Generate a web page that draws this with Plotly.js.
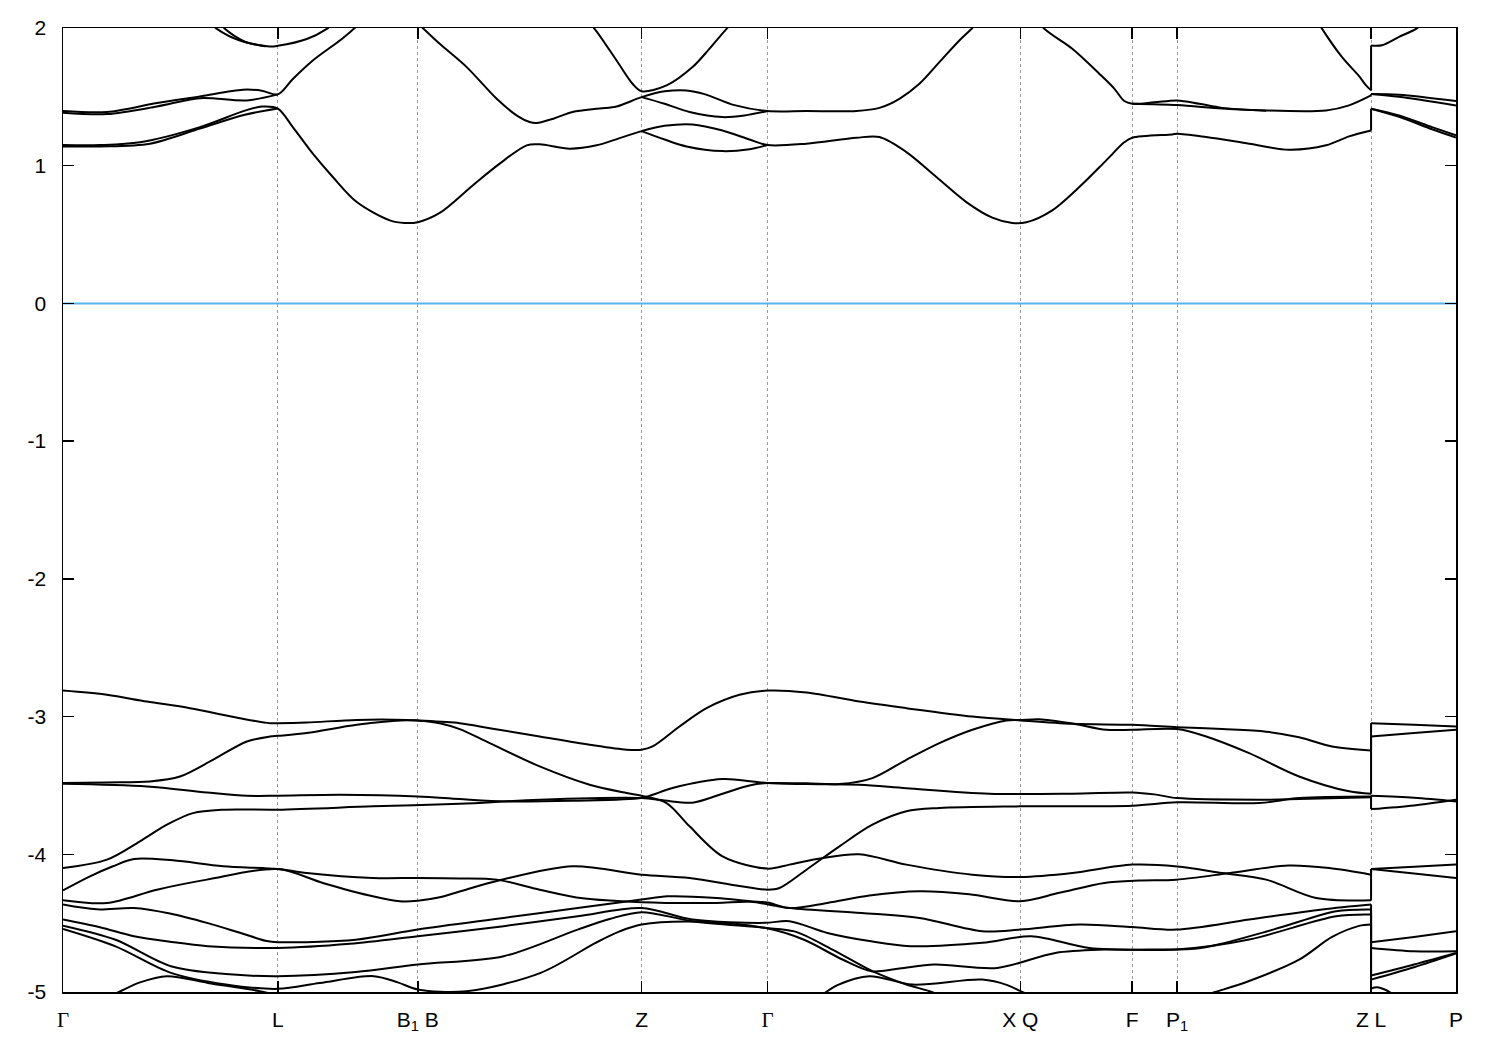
<!DOCTYPE html>
<html>
<head>
<meta charset="utf-8">
<script src="https://cdn.plot.ly/plotly-3.0.1.min.js"></script>
<style>html,body{margin:0;padding:0;background:#fff;}#chart{width:1500px;height:1050px;}</style>
</head>
<body>
<div id="chart"></div>
<script>
// ---- high-symmetry points along the k-path ----
const symK = [0, 2.15, 3.55, 5.79, 7.05, 9.58, 10.70, 11.15, 13.09, 13.94];
const symLabels = ['<span style="font-family:\'Liberation Serif\'">Γ</span>', 'L', 'B<sub>1</sub> B', 'Z',
  '<span style="font-family:\'Liberation Serif\'">Γ</span>', 'X Q', 'F', 'P<sub>1</sub>', 'Z L', 'P'];
const kBreak = 13.09;            // Z | L discontinuity
const energyTicks = [-5, -4, -3, -2, -1, 0, 1, 2];
const energyLabels = ['-5', '-4', '-3', '-2', '-1', '0', '1', '2'];
const fermiE = 0;

// ---- conduction bands (Γ ... Z) ----
const c1K = [0,0.37,0.77,1.37,1.82,1.99,2.15,2.30,2.50,2.70,2.94,3.27,3.42,3.55,3.77,4.10,4.37,4.64,4.77,5.07,5.34,5.57,5.79,6.02,6.30,6.60,6.87,7.05,7.44,7.94,8.17,8.44,8.74,9.04,9.30,9.50,9.64,9.90,10.17,10.44,10.62,10.70,11.10,11.15,11.44,11.87,12.27,12.64,12.87,13.09];
const c1E = [1.15,1.15,1.17,1.28,1.40,1.43,1.415,1.28,1.087,0.918,0.736,0.603,0.584,0.59,0.657,0.857,1.015,1.148,1.155,1.124,1.148,1.20,1.251,1.29,1.30,1.256,1.19,1.15,1.16,1.203,1.208,1.099,0.918,0.736,0.623,0.584,0.589,0.676,0.845,1.039,1.17,1.203,1.227,1.232,1.208,1.16,1.116,1.148,1.213,1.256];
const c2K = [0,0.44,0.94,1.37,1.80,1.99,2.15,2.30,2.50,2.77,2.91,3.27,3.60,3.77,4.04,4.34,4.55,4.67,4.74,4.92,5.10,5.37,5.54,5.79,6.02,6.24,6.42,6.72,7.05,7.44,7.94,8.17,8.37,8.57,8.77,8.97,9.10,9.46,9.82,10.10,10.37,10.52,10.62,10.70,10.92,11.15,11.37,11.60,12.04,12.64,12.87,13.09];
const c2E = [1.397,1.39,1.455,1.503,1.552,1.545,1.518,1.63,1.764,1.909,1.994,2.22,2.0,1.885,1.716,1.486,1.36,1.317,1.31,1.345,1.39,1.415,1.43,1.498,1.54,1.547,1.52,1.44,1.397,1.397,1.397,1.42,1.486,1.595,1.752,1.909,2.0,2.28,1.994,1.849,1.668,1.56,1.47,1.45,1.46,1.474,1.45,1.42,1.401,1.401,1.438,1.51];
const c5K = [12.57,12.60,12.80,12.97,13.04,13.09];
const c5E = [2.03,1.994,1.788,1.65,1.583,1.547];
// conduction: L ... P segment
const c1LpK = [13.09,13.37,13.70,13.94];
const c1LpE = [1.414,1.365,1.28,1.22];
const c2LpK = [13.09,13.37,13.94];
const c2LpE = [1.52,1.515,1.469];
const c5LpK = [13.09,13.20,13.37,13.54,13.60];
const c5LpE = [1.873,1.875,1.935,1.994,2.03];
// conduction: extra (split partners / short pieces)
const c1sK = [0,0.37,0.87,1.37,1.82,2.15];
const c1sE = [1.14,1.14,1.16,1.27,1.37,1.415];
const c1bK = [5.79,6.02,6.24,6.60,6.87,7.05];
const c1bE = [1.251,1.19,1.14,1.106,1.12,1.15];
const c1LpsE = [1.414,1.355,1.265,1.205];
const c2sK = [0,0.44,0.94,1.37,1.84,2.15];
const c2sE = [1.385,1.375,1.43,1.49,1.474,1.518];
const c2bK = [5.79,6.02,6.27,6.60,6.82,7.05];
const c2bE = [1.498,1.45,1.39,1.353,1.365,1.397];
const c2s2K = [10.70,11.15,11.60,12.04];
const c2s2E = [1.45,1.44,1.415,1.40];
const c2LpsE = [1.52,1.50,1.438];
const c3K = [1.47,1.54,1.77,2.07,2.15,2.44,2.64,2.70];
const c3E = [2.04,1.994,1.909,1.866,1.871,1.92,1.994,2.03];
const c3bK = [1.57,1.62,1.82,2.02];
const c3bE = [2.04,1.994,1.90,1.868];
const c4K = [5.27,5.32,5.54,5.70,5.79,6.04,6.30,6.47,6.64,6.69];
const c4E = [2.03,1.994,1.764,1.595,1.541,1.583,1.716,1.85,1.994,2.03];

// ---- valence bands (Γ ... Z) ----
const v1K = [0,0.44,0.84,1.27,1.77,2.07,2.15,2.44,2.94,3.44,3.55,3.97,4.27,4.77,5.27,5.64,5.79,5.90,6.17,6.44,6.77,7.05,7.44,7.97,8.44,9.10,9.58,10.10,10.70,11.15,11.60,12.04,12.37,12.70,13.09];
const v1E = [-2.811,-2.842,-2.891,-2.939,-3.012,-3.048,-3.048,-3.043,-3.024,-3.024,-3.028,-3.048,-3.084,-3.145,-3.205,-3.241,-3.241,-3.217,-3.072,-2.939,-2.842,-2.811,-2.825,-2.891,-2.939,-3.0,-3.028,-3.053,-3.06,-3.077,-3.091,-3.11,-3.15,-3.217,-3.246];
const v2K = [0,0.44,0.87,1.17,1.50,1.84,2.07,2.15,2.44,2.94,3.44,3.55,3.77,3.97,4.27,4.77,5.27,5.64,5.79,6.04,6.27,6.60,7.05,7.27,7.60,7.97,8.44,9.10,9.58,10.10,10.70,11.15,11.60,12.04,12.54,13.09];
const v2E = [-3.483,-3.478,-3.471,-3.435,-3.314,-3.181,-3.145,-3.14,-3.12,-3.06,-3.027,-3.028,-3.048,-3.091,-3.193,-3.362,-3.495,-3.555,-3.575,-3.628,-3.797,-4.015,-4.104,-4.075,-4.027,-4.0,-4.075,-4.148,-4.165,-4.136,-4.075,-4.088,-4.136,-4.184,-4.317,-4.334];
const v3K = [0,0.84,1.44,1.84,2.15,2.77,3.55,3.97,4.44,5.10,5.79,5.90,6.10,6.60,6.90,7.05,7.44,7.97,8.44,9.27,10.10,10.70,10.92,11.15,11.97,12.37,13.09];
const v3E = [-3.488,-3.507,-3.551,-3.575,-3.575,-3.568,-3.58,-3.599,-3.616,-3.611,-3.592,-3.568,-3.519,-3.454,-3.471,-3.483,-3.49,-3.495,-3.52,-3.56,-3.56,-3.551,-3.565,-3.592,-3.604,-3.599,-3.585];
const v4K = [0,0.44,0.77,1.04,1.30,1.60,2.15,3.10,3.97,4.77,5.79,6.02,6.30,6.60,6.87,7.05,7.44,7.77,8.10,8.44,8.77,9.10,9.44,9.58,9.77,10.10,10.44,10.70,11.15,11.44,11.87,12.37,12.87,13.09];
const v4E = [-4.1,-4.039,-3.906,-3.785,-3.701,-3.676,-3.676,-3.652,-3.633,-3.604,-3.592,-3.61,-3.625,-3.56,-3.50,-3.483,-3.485,-3.49,-3.447,-3.314,-3.193,-3.096,-3.028,-3.025,-3.019,-3.05,-3.096,-3.096,-3.091,-3.145,-3.266,-3.435,-3.543,-3.56];
const v5K = [0,0.27,0.50,0.71,1.10,1.60,2.15,2.44,3.10,3.55,3.97,4.34,4.77,5.20,5.79,6.54,6.88,7.27,7.99,8.57,9.20,9.58,10.17,10.70,11.14,11.87,12.60,13.09];
const v5E = [-4.262,-4.16,-4.087,-4.034,-4.044,-4.087,-4.107,-4.136,-4.172,-4.172,-4.175,-4.184,-4.257,-4.32,-4.348,-4.353,-4.345,-4.39,-4.426,-4.462,-4.559,-4.547,-4.51,-4.528,-4.547,-4.474,-4.401,-4.365];
const v6K = [0,0.44,0.94,1.44,2.15,2.60,3.10,3.37,3.55,3.77,3.97,4.37,5.10,5.79,6.27,6.77,7.05,7.17,7.44,7.77,8.10,8.44,8.77,9.58,10.70,11.15,11.97,12.37,13.09];
const v6E = [-4.334,-4.354,-4.257,-4.184,-4.107,-4.208,-4.305,-4.341,-4.337,-4.312,-4.27,-4.189,-4.087,-4.148,-4.172,-4.23,-4.257,-4.245,-4.112,-3.942,-3.785,-3.688,-3.664,-3.652,-3.647,-3.623,-3.628,-3.592,-3.58];
const v7K = [0,0.34,0.71,1.07,1.45,1.77,2.04,2.15,2.93,3.55,4.41,5.15,5.79,6.05,6.54,6.88,7.05,7.27,7.65,8.07,8.57,9.07,9.58,9.97,10.42,10.77,11.14,11.68,12.26,12.67,13.09];
const v7E = [-4.365,-4.40,-4.39,-4.43,-4.50,-4.57,-4.63,-4.638,-4.62,-4.546,-4.462,-4.39,-4.329,-4.305,-4.317,-4.341,-4.35,-4.39,-4.353,-4.30,-4.269,-4.29,-4.341,-4.28,-4.208,-4.19,-4.184,-4.136,-4.082,-4.1,-4.148];
const v8K = [0,0.37,0.71,1.07,1.45,2.15,2.87,3.55,4.41,5.15,5.79,6.30,7.02,7.27,7.65,8.07,8.48,9.20,9.69,10.27,10.90,11.39,12.11,12.74,13.09];
const v8E = [-4.474,-4.53,-4.595,-4.635,-4.667,-4.68,-4.65,-4.595,-4.522,-4.45,-4.39,-4.474,-4.498,-4.486,-4.571,-4.63,-4.667,-4.643,-4.595,-4.68,-4.692,-4.68,-4.547,-4.414,-4.401];
const v9K = [0,0.52,1.08,1.63,2.15,2.93,3.55,4.41,5.15,5.47,5.79,6.30,7.02,7.32,7.70,8.10,8.44,8.67,8.87];
const v9E = [-4.518,-4.619,-4.813,-4.87,-4.885,-4.855,-4.8,-4.74,-4.547,-4.47,-4.42,-4.486,-4.534,-4.56,-4.692,-4.849,-4.946,-4.994,-5.05];
const v10K = [0,0.52,1.08,1.63,2.15,2.57,3.11,3.35,3.55,4.04,4.78,5.33,5.57,5.79,6.37,7.02,7.41,7.80,8.09,8.37,8.72,9.35,9.93,10.42,11.14,11.87,12.74,13.09];
const v10E = [-4.542,-4.667,-4.861,-4.945,-4.977,-4.935,-4.885,-4.93,-4.982,-4.994,-4.861,-4.643,-4.56,-4.51,-4.49,-4.534,-4.619,-4.764,-4.849,-4.83,-4.80,-4.825,-4.716,-4.692,-4.692,-4.619,-4.45,-4.438];
const v11K = [0.47,0.56,0.77,1.04,1.45,1.97,2.12];
const v11E = [-5.03,-5.0,-4.93,-4.885,-4.934,-4.994,-5.02];
const v12K = [7.60,7.75,8.07,8.50,9.20,9.45,9.60,9.70];
const v12E = [-5.02,-4.95,-4.885,-4.946,-4.91,-4.95,-5.0,-5.03];
const v13K = [11.40,11.53,11.87,12.37,12.70,12.97,13.09];
const v13E = [-5.03,-5.0,-4.92,-4.765,-4.60,-4.52,-4.51];
// valence: L ... P segment (paired with the band that ends at Z)
const lpK = [13.09,13.52,13.94];
const v1LpE = [-3.048,-3.06,-3.072];
const v4LpE = [-3.145,-3.12,-3.096];
const v3LpE = [-3.575,-3.59,-3.616];
const v6LpE = [-3.672,-3.645,-3.604];
const v7LpE = [-4.107,-4.09,-4.075];
const v2LpE = [-4.107,-4.14,-4.172];
const v5LpE = [-4.639,-4.60,-4.559];
const v8LpE = [-4.68,-4.704,-4.704];
const v10LpE = [-4.88,-4.80,-4.716];
const v10LpsE = [-4.91,-4.82,-4.72];
const v13LpK = [13.09,13.15,13.22,13.32];
const v13LpE = [-4.975,-4.965,-4.98,-5.02];

// ---- assemble: [main k, main E, L-P k, L-P E]
const joined = [
  [c1K, c1E, c1LpK, c1LpE], [c2K, c2E, c2LpK, c2LpE], [c5K, c5E, c5LpK, c5LpE],
  [v1K, v1E, lpK, v1LpE], [v2K, v2E, lpK, v2LpE], [v3K, v3E, lpK, v3LpE],
  [v4K, v4E, lpK, v4LpE], [v5K, v5E, lpK, v5LpE], [v6K, v6E, lpK, v6LpE],
  [v7K, v7E, lpK, v7LpE], [v8K, v8E, lpK, v8LpE], [v10K, v10E, lpK, v10LpE],
  [v13K, v13E, v13LpK, v13LpE]
];
const pieces = [
  [c1sK, c1sE], [c1bK, c1bE], [c1LpK, c1LpsE], [c2sK, c2sE], [c2bK, c2bE], [c2s2K, c2s2E],
  [c2LpK, c2LpsE], [c3K, c3E], [c3bK, c3bE], [c4K, c4E], [v9K, v9E], [v11K, v11E],
  [v12K, v12E], [lpK, v10LpsE]
];

const bandLine = {color: '#000', width: 2, shape: 'spline', smoothing: 0.9};
const traces = [];
traces.push({x: [symK[0], symK[symK.length - 1]], y: [fermiE, fermiE], mode: 'lines',
  line: {color: '#56b4e9', width: 2}, hoverinfo: 'skip'});
joined.forEach(b => {
  traces.push({x: b[0], y: b[1], mode: 'lines', line: bandLine, hoverinfo: 'skip'});
  traces.push({x: b[2], y: b[3], mode: 'lines', line: bandLine, hoverinfo: 'skip'});
  traces.push({x: [kBreak, kBreak], y: [b[1][b[1].length - 1], b[3][0]], mode: 'lines',
    line: {color: '#000', width: 2}, hoverinfo: 'skip'});
});
pieces.forEach(p => {
  traces.push({x: p[0], y: p[1], mode: 'lines', line: bandLine, hoverinfo: 'skip'});
});

const font = {family: 'Liberation Sans, Arial, sans-serif', size: 21, color: '#000'};
const layout = {
  width: 1500, height: 1050,
  margin: {l: 63, r: 44, t: 28, b: 58},
  paper_bgcolor: '#fff', plot_bgcolor: '#fff',
  showlegend: false,
  font: font,
  xaxis: {
    range: [symK[0], symK[symK.length - 1]],
    tickmode: 'array', tickvals: symK, ticktext: symLabels,
    ticks: 'inside', ticklen: 11, tickwidth: 1.5, tickcolor: '#000',
    showline: true, linecolor: '#000', linewidth: 1.5, mirror: 'ticks',
    showgrid: true, gridcolor: '#9a9a9a', griddash: 'dot', gridwidth: 1,
    zeroline: false, tickfont: font, ticklabelstandoff: 8
  },
  yaxis: {
    range: [-5, 2],
    tickmode: 'array', tickvals: energyTicks, ticktext: energyLabels,
    ticks: 'inside', ticklen: 11, tickwidth: 1.5, tickcolor: '#000',
    showline: true, linecolor: '#000', linewidth: 1.5, mirror: 'ticks',
    showgrid: false, zeroline: false, tickfont: font, ticklabelstandoff: 11
  }
};
Plotly.newPlot('chart', traces, layout, {staticPlot: true, displayModeBar: false});
</script>
</body>
</html>
